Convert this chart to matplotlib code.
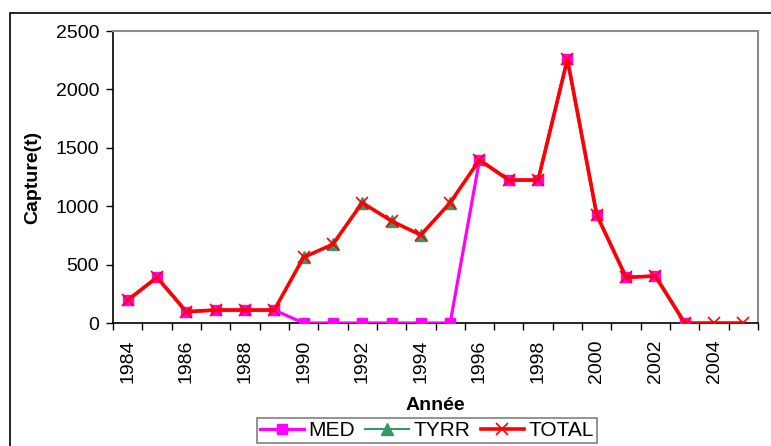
import numpy as np
import matplotlib.pyplot as plt
from matplotlib.patches import Rectangle

plt.rcParams['font.family'] = ['Liberation Sans', 'DejaVu Sans']

# données
annees = list(range(1984, 2006))
med = [195, 391, 97, 111, 111, 111, 0, 0, 0, 0, 0, 0,
       1396, 1224, 1224, 2258, 925, 391, 402, 0, np.nan, np.nan]
tyrr = [np.nan] * 6 + [562, 674, 1030, 873, 753, 1030] + [np.nan] * 10
total = [195, 391, 97, 111, 111, 111, 562, 674, 1030, 873, 753, 1030,
         1396, 1224, 1224, 2258, 925, 391, 402, 0, 0, 0]
yticks = [0, 500, 1000, 1500, 2000, 2500]

fig = plt.figure(figsize=(7.71, 4.46), dpi=100)
ax = fig.add_axes([113 / 771, 1 - 323 / 446, (758 - 113) / 771, (323 - 31) / 446])

x = np.arange(len(annees))
ax.plot(x, med, color='#FF00FF', lw=2.3, marker='s', ms=7.5, label='MED', zorder=3)
ax.plot(x, tyrr, color='#339966', lw=1.5, marker='^', ms=8, label='TYRR', zorder=4)
ax.plot(x, total, color='#FF0000', lw=2.6, marker='x', ms=8.5, mew=1.2, label='TOTAL', zorder=5)

ax.set_xlim(-0.5, len(annees) - 0.5)
ax.set_ylim(0, 2500)
ax.set_yticks(yticks)
ax.set_xticks(x[::2])
ax.set_xticklabels([str(a) for a in annees[::2]], rotation=90)
ax.set_xticks(np.arange(-0.5, len(annees), 1), minor=True)
ax.tick_params(axis='x', which='major', length=0, pad=12, labelsize=14)
ax.tick_params(axis='x', which='minor', length=5, width=1, direction='out')
ax.tick_params(axis='y', length=5, width=1, direction='out', labelsize=14, pad=5)

for s in ['top', 'right']:
    ax.spines[s].set_color('#8c8c8c')
    ax.spines[s].set_linewidth(1.5)
for s in ['left', 'bottom']:
    ax.spines[s].set_linewidth(1.2)

ax.set_ylabel('Capture(t)', fontsize=14, fontweight='bold', labelpad=10)
ax.set_xlabel('Année', fontsize=14, fontweight='bold', labelpad=10)

# cadre du graphique
fig.patches.append(Rectangle((10 / 771, -0.2), 1.2, (446 - 13) / 446 + 0.2,
                             transform=fig.transFigure, fill=False,
                             edgecolor='black', lw=1.2))

leg = fig.legend(loc='upper center', bbox_to_anchor=(0.554, 0.063), ncol=3,
                 fontsize=15, fancybox=False, edgecolor='#606060',
                 handlelength=2.1, handletextpad=0.2, columnspacing=0.5,
                 borderpad=0.15, borderaxespad=0)
leg.get_frame().set_linewidth(1.2)

fig.savefig('out.png', dpi=100)
